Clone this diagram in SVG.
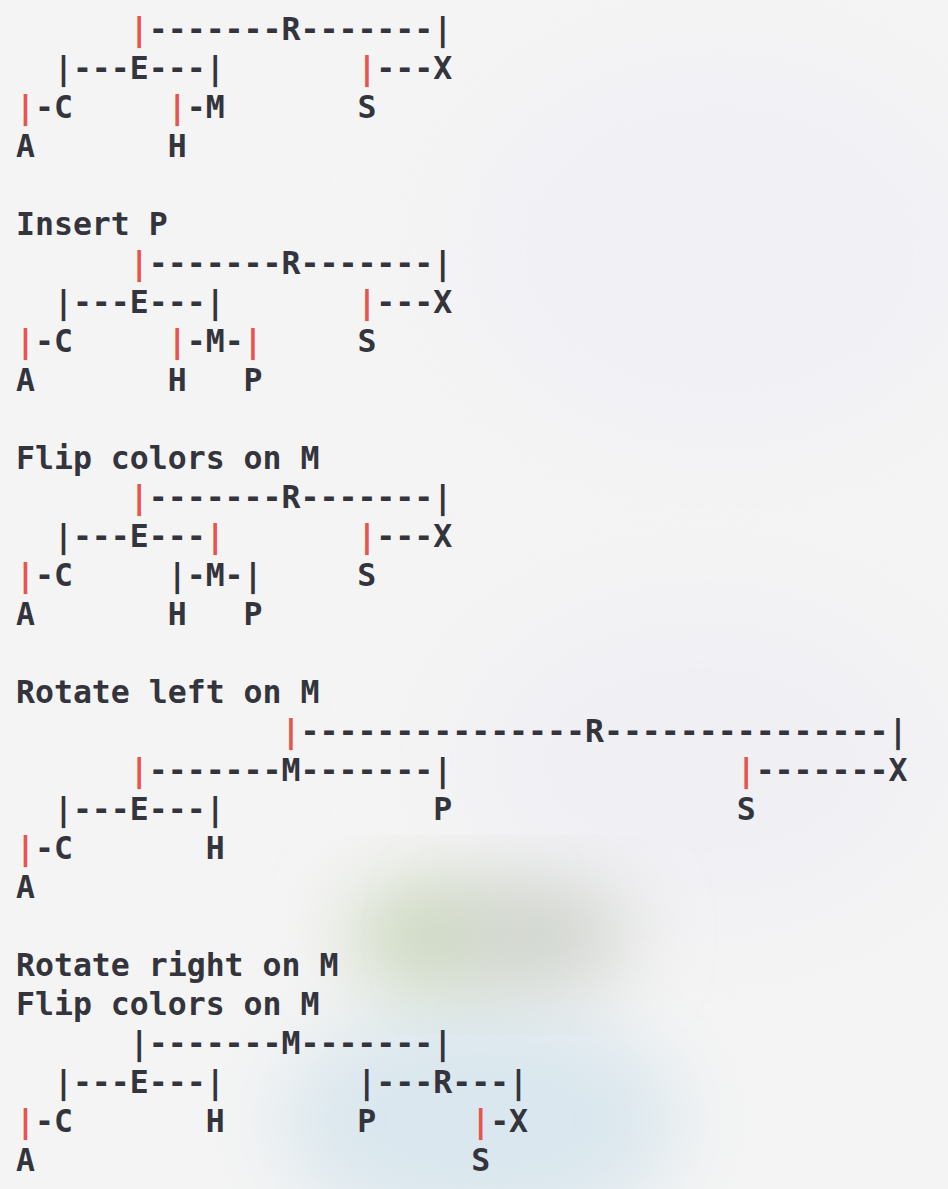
<svg xmlns="http://www.w3.org/2000/svg" width="948" height="1189" viewBox="0 0 948 1189">
<defs>
<filter id="blur" x="-50%" y="-50%" width="200%" height="200%"><feGaussianBlur stdDeviation="40"/></filter>
<filter id="blur2" x="-50%" y="-50%" width="200%" height="200%"><feGaussianBlur stdDeviation="60"/></filter>
<style>
text{font-family:"DejaVu Sans Mono","Liberation Mono",monospace;font-size:31.5px;fill:#33343c;white-space:pre;font-weight:bold}
.r{fill:#e8544c}
</style>
</defs>
<rect width="948" height="1189" fill="#f4f4f4"/>
<g id="background">
<ellipse cx="720" cy="250" rx="260" ry="200" fill="#f1f0f5" filter="url(#blur2)"/>
<ellipse cx="700" cy="760" rx="240" ry="160" fill="#f0eff4" filter="url(#blur2)"/>
<ellipse cx="480" cy="1120" rx="200" ry="120" fill="#dae7ee" filter="url(#blur)"/>
<ellipse cx="430" cy="935" rx="80" ry="50" fill="#c8d6b9" filter="url(#blur)"/>
<ellipse cx="540" cy="935" rx="90" ry="50" fill="#cdd2ca" filter="url(#blur)"/>
</g>
<g id="block1">
<text x="16" y="40">      <tspan class="r">|</tspan>-------R-------|</text>
<text x="16" y="79">  |---E---|       <tspan class="r">|</tspan>---X</text>
<text x="16" y="118"><tspan class="r">|</tspan>-C     <tspan class="r">|</tspan>-M       S</text>
<text x="16" y="157">A       H</text>
</g>
<g id="block2">
<text x="16" y="235">Insert P</text>
<text x="16" y="274">      <tspan class="r">|</tspan>-------R-------|</text>
<text x="16" y="313">  |---E---|       <tspan class="r">|</tspan>---X</text>
<text x="16" y="352"><tspan class="r">|</tspan>-C     <tspan class="r">|</tspan>-M-<tspan class="r">|</tspan>     S</text>
<text x="16" y="391">A       H   P</text>
</g>
<g id="block3">
<text x="16" y="469">Flip colors on M</text>
<text x="16" y="508">      <tspan class="r">|</tspan>-------R-------|</text>
<text x="16" y="547">  |---E---<tspan class="r">|</tspan>       <tspan class="r">|</tspan>---X</text>
<text x="16" y="586"><tspan class="r">|</tspan>-C     |-M-|     S</text>
<text x="16" y="625">A       H   P</text>
</g>
<g id="block4">
<text x="16" y="703">Rotate left on M</text>
<text x="16" y="742">              <tspan class="r">|</tspan>---------------R---------------|</text>
<text x="16" y="781">      <tspan class="r">|</tspan>-------M-------|               <tspan class="r">|</tspan>-------X</text>
<text x="16" y="820">  |---E---|           P               S</text>
<text x="16" y="859"><tspan class="r">|</tspan>-C       H</text>
<text x="16" y="898">A</text>
</g>
<g id="block5">
<text x="16" y="976">Rotate right on M</text>
<text x="16" y="1015">Flip colors on M</text>
<text x="16" y="1054">      |-------M-------|</text>
<text x="16" y="1093">  |---E---|       |---R---|</text>
<text x="16" y="1132"><tspan class="r">|</tspan>-C       H       P     <tspan class="r">|</tspan>-X</text>
<text x="16" y="1171">A                       S</text>
</g>
</svg>
